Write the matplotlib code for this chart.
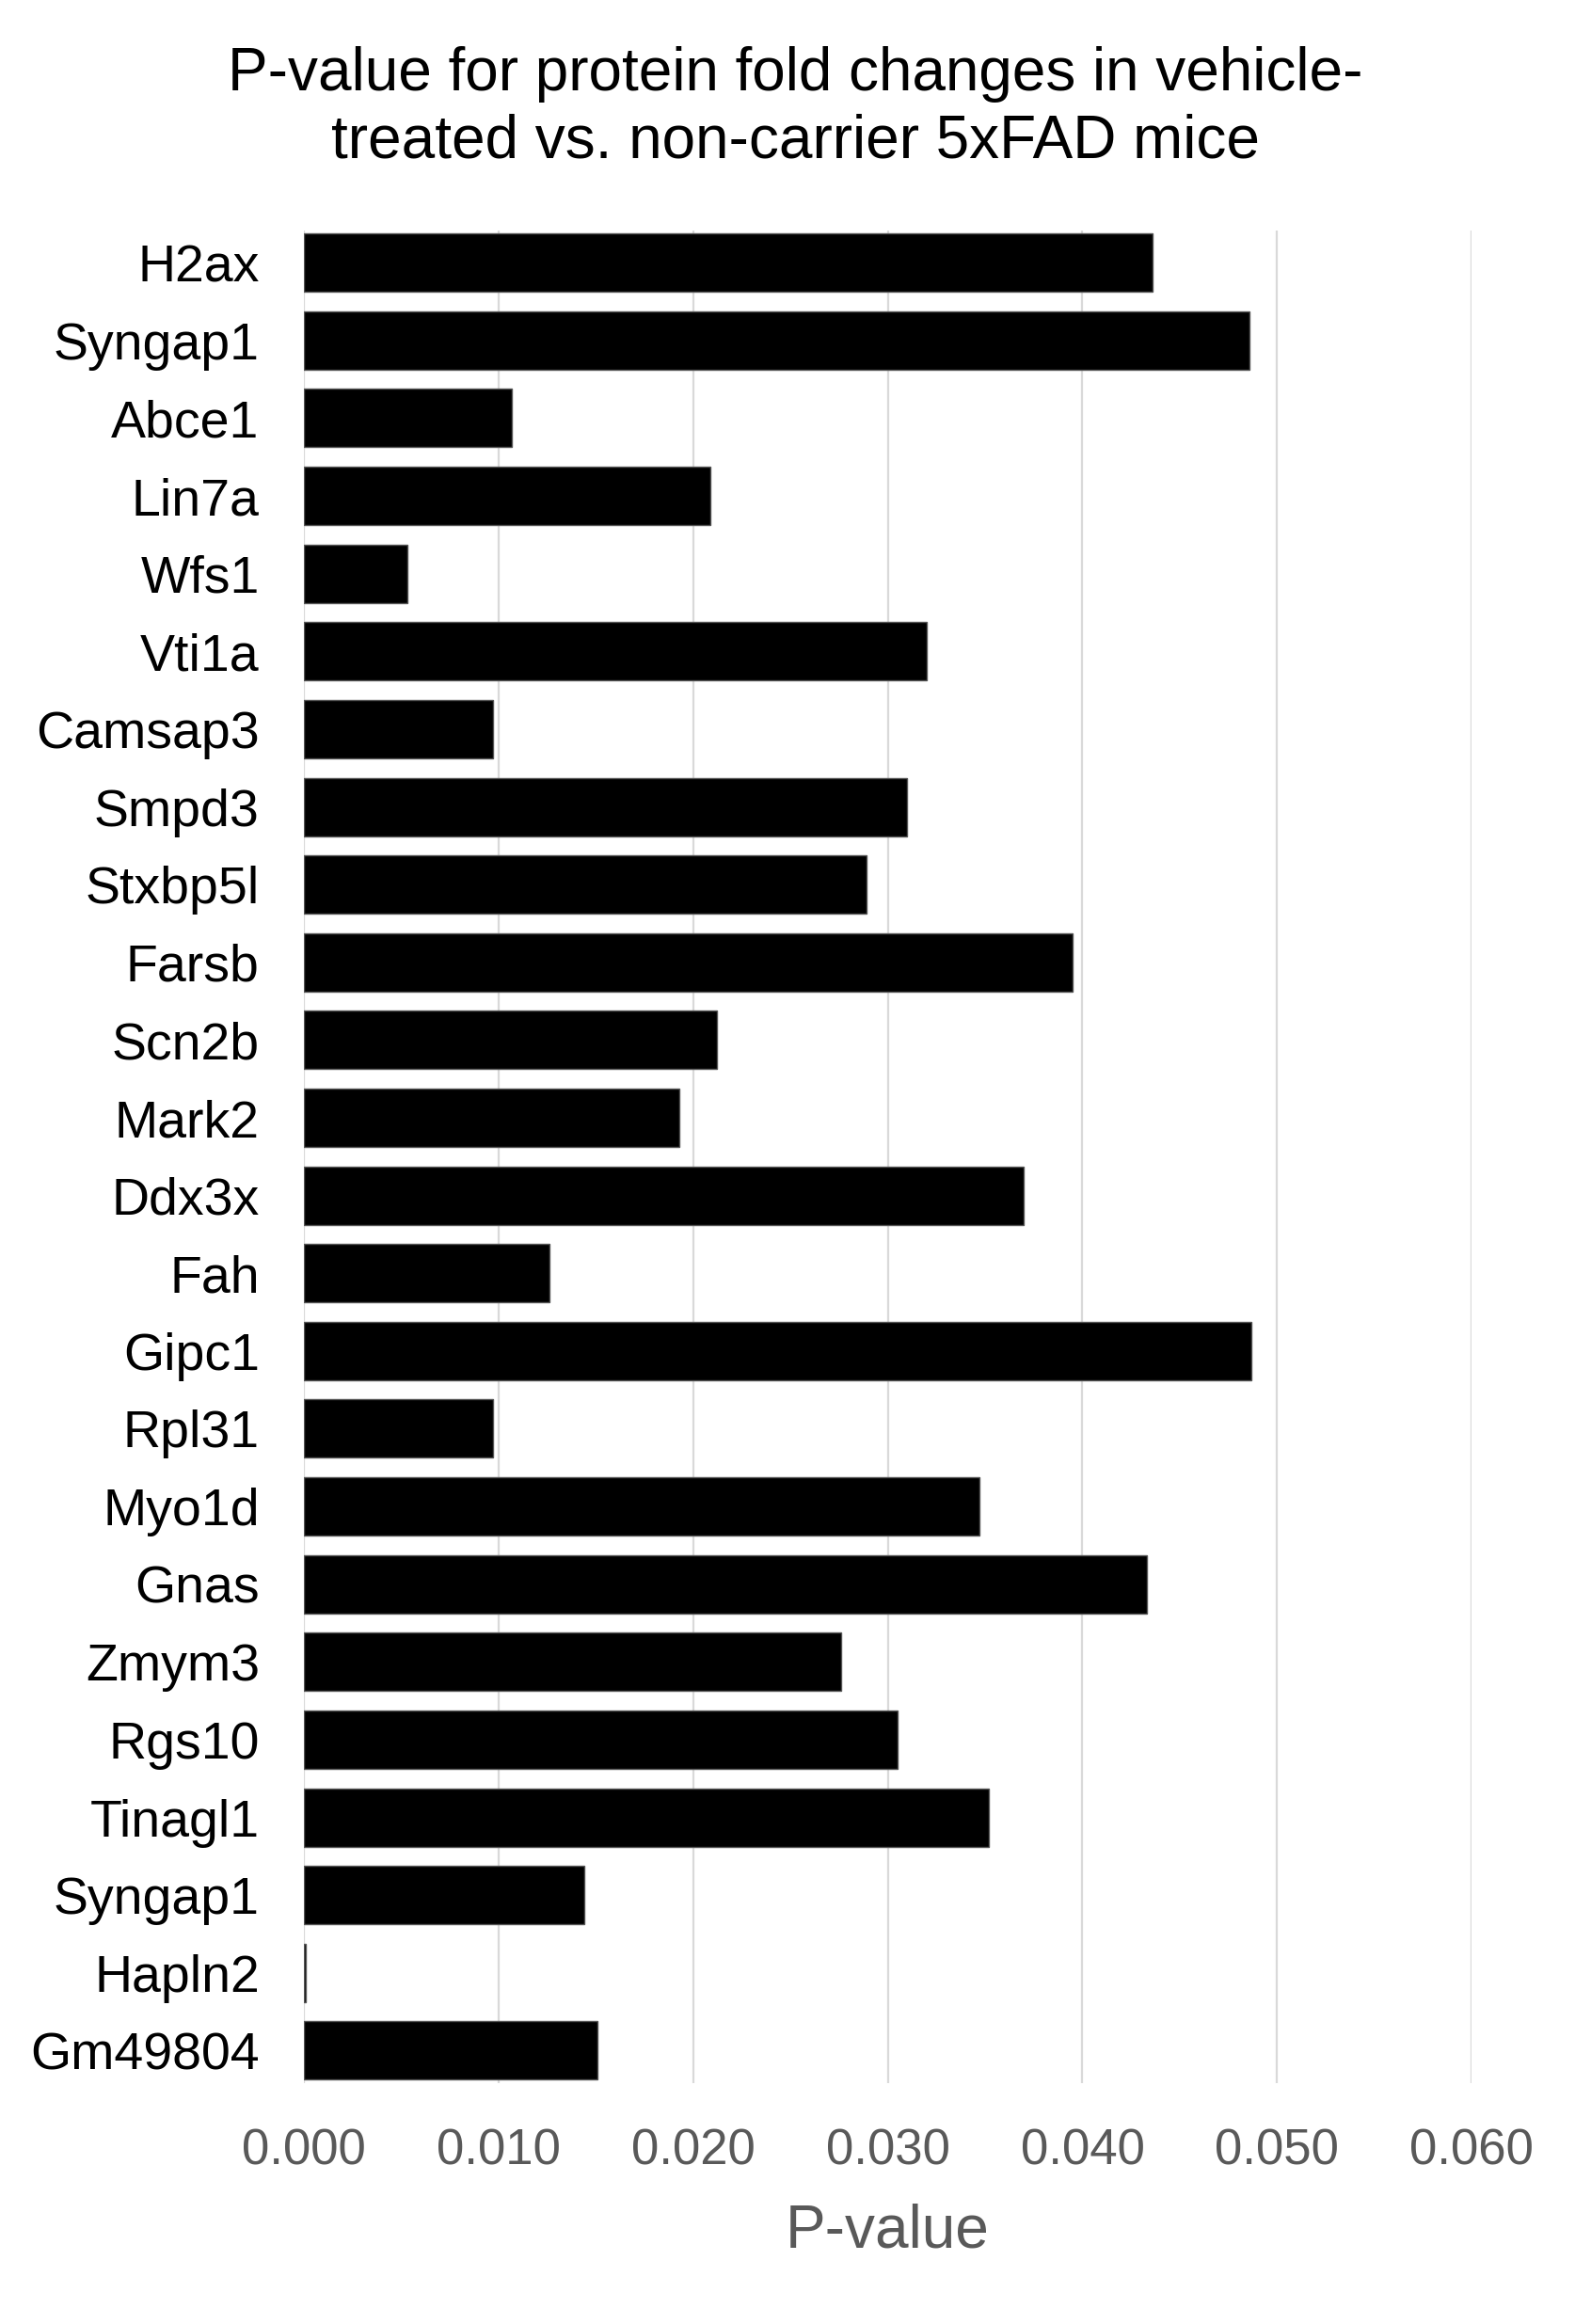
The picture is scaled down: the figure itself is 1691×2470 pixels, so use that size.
import numpy as np
import matplotlib.pyplot as plt

plt.rcParams['font.family'] = ['Liberation Sans', 'DejaVu Sans']

proteins = ['H2ax', 'Syngap1', 'Abce1', 'Lin7a', 'Wfs1', 'Vti1a', 'Camsap3', 'Smpd3',
            'Stxbp5l', 'Farsb', 'Scn2b', 'Mark2', 'Ddx3x', 'Fah', 'Gipc1', 'Rpl31',
            'Myo1d', 'Gnas', 'Zmym3', 'Rgs10', 'Tinagl1', 'Syngap1', 'Hapln2', 'Gm49804']
p_values = [0.0436, 0.0486, 0.0107, 0.0209, 0.0053, 0.0320, 0.0097, 0.0310,
            0.0289, 0.0395, 0.0212, 0.0193, 0.0370, 0.0126, 0.0487, 0.0097,
            0.0347, 0.0433, 0.0276, 0.0305, 0.0352, 0.0144, 0.0001, 0.0151]
x_ticks = [0.0, 0.01, 0.02, 0.03, 0.04, 0.05, 0.06]

fig = plt.figure(figsize=(16.91, 24.70), dpi=100)
ax = fig.add_axes([0.191, 0.1036, 0.734, 0.7974])

# positions by index since Syngap1 appears twice
pos = np.arange(len(proteins))
ax.barh(pos, p_values, height=0.75, color='black', edgecolor='#555555', linewidth=1, zorder=3)

ax.set_ylim(len(proteins) - 0.58, -0.42)
ax.set_xlim(0, 0.06)
ax.set_yticks(pos)
ax.set_yticklabels(proteins, fontsize=40, color='black')
ax.set_xticks(x_ticks)
ax.set_xticklabels(['%.3f' % t for t in x_ticks], fontsize=38, color='#595959')
ax.tick_params(axis='y', length=0, pad=34)
ax.tick_params(axis='x', length=0, pad=34)

ax.grid(axis='x', color='#d9d9d9', linewidth=1.6, zorder=0)
for s in ax.spines.values():
    s.set_visible(False)

ax.set_xlabel('P-value', fontsize=46, color='#595959', labelpad=22)

fig.text(0.5, 0.9535, 'P-value for protein fold changes in vehicle-\ntreated vs. non-carrier 5xFAD mice',
         ha='center', va='center', fontsize=46, linespacing=1.24)

fig.savefig('out.png', dpi=100, facecolor='white')
